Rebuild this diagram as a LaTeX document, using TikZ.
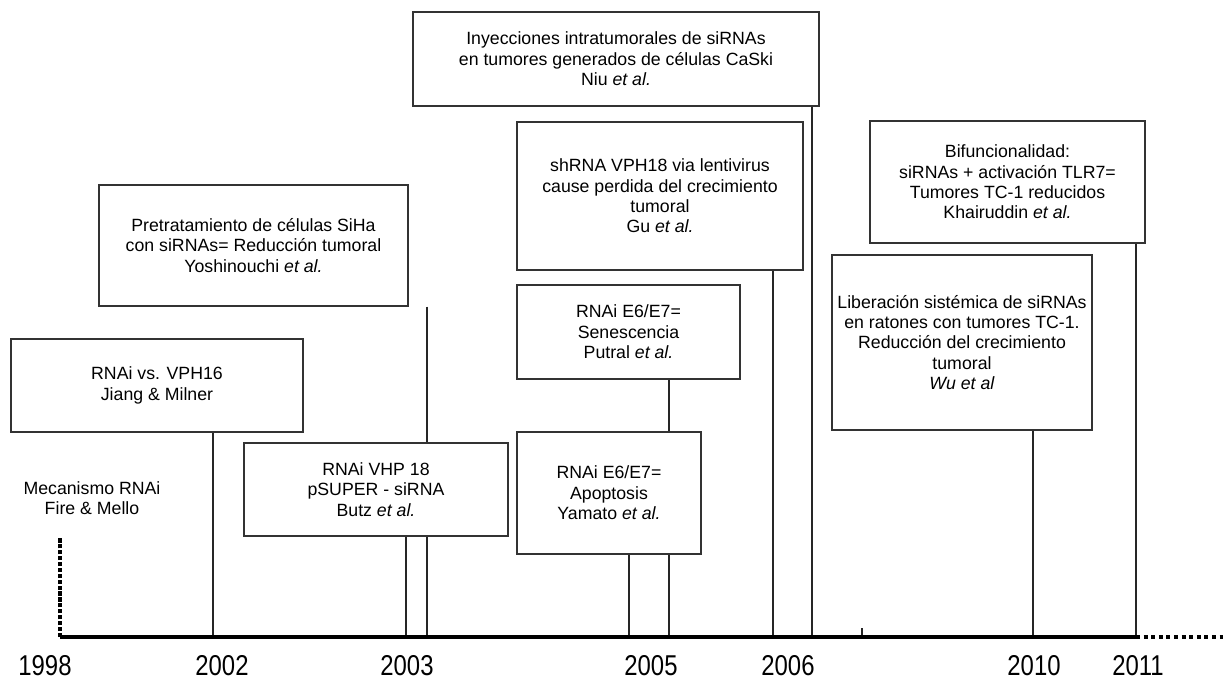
\documentclass[tikz,border=0pt]{standalone}
\usepackage{fontspec}
\setmainfont{Liberation Sans}
\usetikzlibrary{positioning}

\begin{document}
\begin{tikzpicture}[x=0.025cm,y=-0.025cm,
  evento/.style={draw=black!80, line width=1pt, fill=white, align=center,
                 inner sep=2pt, font=\fontsize{12.6}{14.5}\selectfont},
  enlace/.style={black!85, line width=0.8pt},
  anio/.style={font=\fontsize{17}{20}\selectfont}]
  \useasboundingbox (0,0) rectangle (1225,687);

  % ── Puntos sobre el eje ──
  \coordinate (o)    at (60,637);
  \coordinate (t02)  at (213,637);
  \coordinate (t03a) at (406,637);
  \coordinate (t03b) at (427,637);
  \coordinate (t05a) at (629,637);
  \coordinate (t05b) at (669,637);
  \coordinate (t06a) at (773,637);
  \coordinate (t06b) at (812,637);
  \coordinate (t07)  at (862,637);
  \coordinate (t10)  at (1033,637);
  \coordinate (t11)  at (1136,637);

  % ── Eventos ──
  \node[evento, minimum width=7.3cm, minimum height=2.325cm] (jiang) at (157,385.5)
    {RNAi vs. VPH16\\Jiang \& Milner};
  \node[evento, minimum width=7.725cm, minimum height=3.025cm] (yoshi) at (253.5,245.5)
    {Pretratamiento de células SiHa\\con siRNAs= Reducción tumoral\\Yoshinouchi \textit{et al.}};
  \node[evento, minimum width=10.15cm, minimum height=2.35cm] (niu) at (616,59)
    {Inyecciones intratumorales de siRNAs\\en tumores generados de células CaSki\\Niu \textit{et al.}};
  \node[evento, minimum width=7.15cm, minimum height=3.7cm] (gu) at (660,196)
    {shRNA VPH18 via lentivirus\\cause perdida del crecimiento\\tumoral\\Gu \textit{et al.}};
  \node[evento, minimum width=5.575cm, minimum height=2.35cm] (putral) at (628.5,332)
    {RNAi E6/E7=\\Senescencia\\Putral \textit{et al.}};
  \node[evento, minimum width=6.875cm, minimum height=3.05cm] (khair) at (1007.5,182)
    {Bifuncionalidad:\\siRNAs + activación TLR7=\\Tumores TC-1 reducidos\\Khairuddin \textit{et al.}};
  \node[evento, minimum width=6.5cm, minimum height=4.375cm] (wu) at (962,342.5)
    {Liberación sistémica de siRNAs\\en ratones con tumores TC-1.\\Reducción del crecimiento\\tumoral\\\textit{Wu et al}};
  \node[font=\fontsize{12.6}{14.5}\selectfont, align=center] (mecanismo) at (92,498)
    {Mecanismo RNAi\\Fire \& Mello};

  % ── Enlaces al eje ──
  \draw[enlace] (jiang.south -| t02) -- (t02);
  \draw[enlace] (yoshi.south -| t03b) -- (t03b);
  \draw[enlace] (niu.south -| t06b) -- (t06b);
  \draw[enlace] (gu.south -| t06a) -- (t06a);
  \draw[enlace] (putral.south -| t05b) -- (t05b);
  \draw[enlace] (khair.south -| t11) -- (t11);
  \draw[enlace] (wu.south -| t10) -- (t10);
  \draw[enlace] (t07) -- ++(0,-9);

  % ── Eventos sobre los enlaces ──
  \node[evento, minimum width=6.6cm, minimum height=2.325cm] (butz) at (376,489.5)
    {RNAi VHP 18\\pSUPER - siRNA\\Butz \textit{et al.}};
  \node[evento, minimum width=4.6cm, minimum height=3.05cm] (yamato) at (609,493)
    {RNAi E6/E7=\\Apoptosis\\Yamato \textit{et al.}};
  \draw[enlace] (butz.south -| t03a) -- (t03a);
  \draw[enlace] (yamato.south -| t05a) -- (t05a);

  % ── Eje temporal ──
  \draw[line width=2.5pt, dash pattern=on 3pt off 1.2pt] (o) -- ++(0,-100);
  \draw[line width=2.2pt] (o) -- (t11);
  \draw[line width=2.8pt, dash pattern=on 2.8pt off 2.6pt] (t11) -- ++(89,0);

  % ── Años ──
  \node[anio] (a1998) at (45,666) {\scalebox{1}[1.2]{1998}};
  \node[anio] (a2002) at (222,666) {\scalebox{1}[1.2]{2002}};
  \node[anio] (a2003) at (407,666) {\scalebox{1}[1.2]{2003}};
  \node[anio] (a2005) at (651,666) {\scalebox{1}[1.2]{2005}};
  \node[anio] (a2006) at (788,666) {\scalebox{1}[1.2]{2006}};
  \node[anio] (a2010) at (1034,666) {\scalebox{1}[1.2]{2010}};
  \node[anio] (a2011) at (1138,666) {\scalebox{1}[1.2]{2011}};
\end{tikzpicture}
\end{document}
